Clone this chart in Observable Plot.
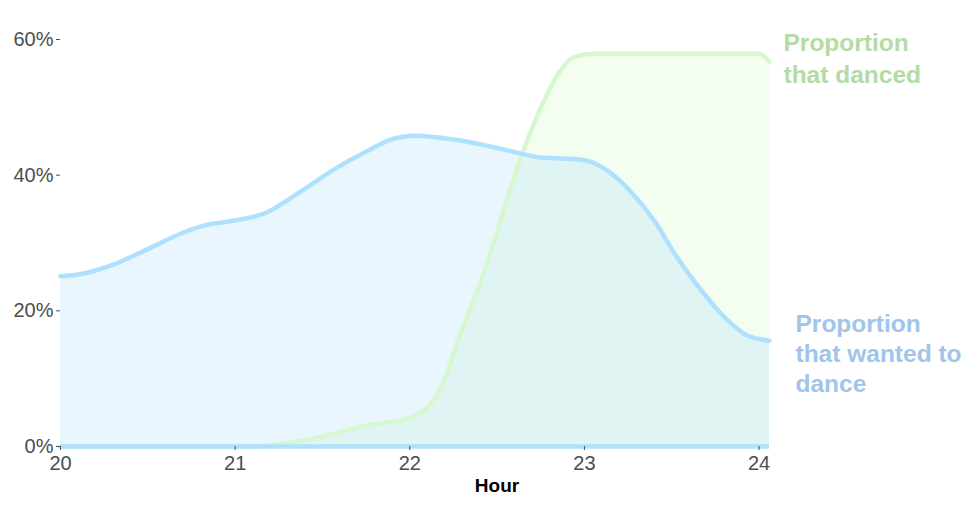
<!DOCTYPE html>
<html>
<head>
<meta charset="utf-8">
<script src="https://cdn.jsdelivr.net/npm/d3@7"></script>
<script src="https://cdn.jsdelivr.net/npm/@observablehq/plot@0.6"></script>
<style>
  html, body { margin: 0; padding: 0; background: #fff; }
</style>
</head>
<body>
<div id="chart"></div>
<script>
// Proportion that wanted to dance (blue)
const wantedHours  = [20.0, 20.11, 20.31, 20.5, 20.69, 20.84, 20.97, 21.18, 21.37, 21.57, 21.76, 21.91, 22.02, 22.29, 22.52, 22.75, 22.98, 23.13, 23.26, 23.4, 23.53, 23.67, 23.8, 23.93, 24.06];
const wantedValues = [0.251, 0.254, 0.269, 0.291, 0.314, 0.327, 0.332, 0.345, 0.375, 0.409, 0.436, 0.454, 0.458, 0.451, 0.439, 0.426, 0.423, 0.407, 0.377, 0.333, 0.279, 0.230, 0.191, 0.164, 0.156];

// Proportion that danced (green)
const dancedHours  = [20.0, 21.0, 21.1, 21.25, 21.5, 21.75, 22.0, 22.08, 22.18, 22.29, 22.41, 22.52, 22.63, 22.71, 22.79, 22.86, 22.94, 23.05, 23.5, 24.0, 24.06];
const dancedValues = [0.0, 0.0, 0.0, 0.003, 0.015, 0.031, 0.042, 0.053, 0.087, 0.166, 0.245, 0.333, 0.422, 0.475, 0.521, 0.553, 0.574, 0.579, 0.579, 0.579, 0.567];

const yTicks = [0, 0.2, 0.4, 0.6];
const xTicks = [20, 21, 22, 23, 24];
const wantedLabel = "Proportion\nthat wanted to\ndance";
const dancedLabel = "Proportion\nthat danced";
const xLabel = "Hour";

const wanted = wantedHours.map((h, i) => ({hour: h, value: wantedValues[i]}));
const danced = dancedHours.map((h, i) => ({hour: h, value: dancedValues[i]}));

const blueLine = "#aee0ff";
const greenLine = "#d6f8d1";

const chart = Plot.plot({
  width: 976,
  height: 513,
  marginLeft: 60,
  marginRight: 207,
  marginTop: 39,
  marginBottom: 67,
  style: {fontFamily: "'Liberation Sans', Arial, sans-serif", fontSize: "20px", color: "#4d4d4d", background: "#fff", overflow: "visible"},
  x: {domain: [20, 24.06]},
  y: {domain: [0, 0.6]},
  marks: [
    Plot.areaY(danced, {x: "hour", y: "value", fill: "#cef7c2", fillOpacity: 0.25, curve: "monotone-x"}),
    Plot.areaY(wanted, {x: "hour", y: "value", fill: "#a6dcfb", fillOpacity: 0.25, curve: "monotone-x"}),
    Plot.lineY(danced, {x: "hour", y: "value", stroke: greenLine, strokeWidth: 4.5, curve: "monotone-x"}),
    Plot.lineY(wanted, {x: "hour", y: "value", stroke: blueLine, strokeWidth: 4.5, curve: "monotone-x"}),
    Plot.ruleY([0], {stroke: blueLine, strokeWidth: 4.5}),
    Plot.axisY({ticks: yTicks, tickFormat: d3.format(".0%"), tickSize: 4, tickPadding: 3, label: null}),
    Plot.axisX({ticks: xTicks, tickFormat: d => String(d), tickSize: 4, tickPadding: 5, label: null}),
    Plot.text([xLabel], {frameAnchor: "bottom", dx: 82, dy: 45, lineAnchor: "bottom", fontWeight: "bold", fill: "black", fontSize: 19}),
    Plot.text(danced, Plot.selectLast({x: "hour", y: "value", text: () => dancedLabel, textAnchor: "start", lineAnchor: "top", dx: 14, dy: -33, fontSize: 24.5, fontWeight: "bold", lineHeight: 1.29, fill: "#b3dba3"})),
    Plot.text(wanted, Plot.selectLast({x: "hour", y: "value", text: () => wantedLabel, textAnchor: "start", lineAnchor: "top", dx: 26, dy: -30, fontSize: 24.5, fontWeight: "bold", lineHeight: 1.23, fill: "#a0c5ea"}))
  ]
});
document.getElementById("chart").appendChild(chart);
</script>
</body>
</html>
